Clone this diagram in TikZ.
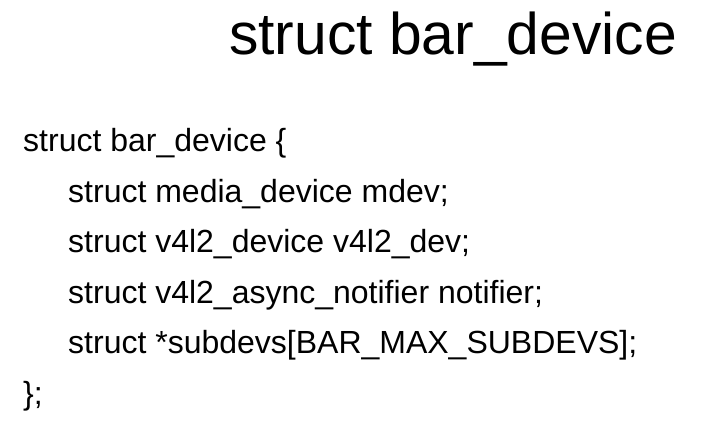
\documentclass[tikz,border=0pt]{standalone}
\usepackage{fontspec}
\setmainfont{Liberation Sans}
\tikzset{
    slidetitle/.style={anchor=base west, inner sep=0pt, font=\fontsize{58.8}{70}\selectfont},
    codeline/.style={anchor=base west, inner sep=0pt, font=\fontsize{32}{38}\selectfont},
}
\begin{document}
\begin{tikzpicture}[x=1pt, y=1pt]
    \useasboundingbox (0,0) rectangle (701,-430);
    % Title
    \node[slidetitle] (title) at (229,-55) {struct bar\_device};
    % Opening line
    \node[codeline] (open) at (23,-151.5) {struct bar\_device \{};
    % Members
    \foreach \i/\txt in {1/{struct media\_device mdev;},
                         2/{struct v4l2\_device v4l2\_dev;},
                         3/{struct v4l2\_async\_notifier notifier;},
                         4/{struct *subdevs[BAR\_MAX\_SUBDEVS];}}
    {
    \node[codeline] (field\i) at (68,-151.5-50.6*\i) {\txt};
    }
    % Closing line
    \node[codeline] (close) at (23,-404.5) {\};};
\end{tikzpicture}
\end{document}
